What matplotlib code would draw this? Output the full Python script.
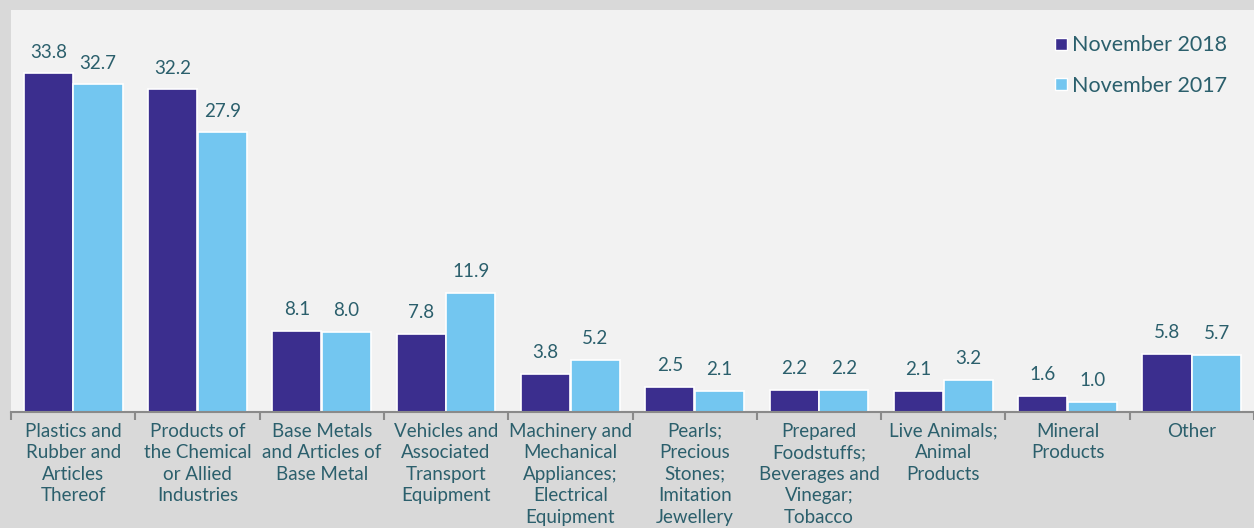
import numpy as np
import matplotlib.pyplot as plt
from matplotlib.lines import Line2D

# categories and values
categories = [
    "Plastics and\nRubber and\nArticles\nThereof",
    "Products of\nthe Chemical\nor Allied\nIndustries",
    "Base Metals\nand Articles of\nBase Metal",
    "Vehicles and\nAssociated\nTransport\nEquipment",
    "Machinery and\nMechanical\nAppliances;\nElectrical\nEquipment",
    "Pearls;\nPrecious\nStones;\nImitation\nJewellery",
    "Prepared\nFoodstuffs;\nBeverages and\nVinegar;\nTobacco",
    "Live Animals;\nAnimal\nProducts",
    "Mineral\nProducts",
    "Other",
]
nov_2018 = [33.8, 32.2, 8.1, 7.8, 3.8, 2.5, 2.2, 2.1, 1.6, 5.8]
nov_2017 = [32.7, 27.9, 8.0, 11.9, 5.2, 2.1, 2.2, 3.2, 1.0, 5.7]
series_names = ["November 2018", "November 2017"]

dark = "#3b2e8e"
light = "#73c6f0"
txt = "#2b5f6c"

plt.rcParams['font.family'] = ['Lato', 'DejaVu Sans']

fig = plt.figure(figsize=(12.54, 5.28), dpi=100, facecolor="#d9d9d9")
ax = fig.add_axes([11 / 1254, 1 - 411.5 / 528, 1 - 11 / 1254, (411.5 - 10) / 528])
ax.set_facecolor("#f2f2f2")

x = np.arange(len(categories))
w = 0.395
b1 = ax.bar(x - 0.2, nov_2018, w, color=dark, edgecolor="white", linewidth=1.2)
b2 = ax.bar(x + 0.2, nov_2017, w, color=light, edgecolor="white", linewidth=1.2)

for bars, vals in ((b1, nov_2018), (b2, nov_2017)):
    for r, v in zip(bars, vals):
        ax.annotate(f"{v:.1f}", (r.get_x() + r.get_width() / 2, v),
                    xytext=(0, 9), textcoords="offset points",
                    ha="center", va="bottom", fontsize=13.5, color=txt)

ax.set_xlim(-0.5, len(categories) - 0.5)
ax.set_ylim(0, 40.15)
ax.set_yticks([])
for s in ("top", "right", "left"):
    ax.spines[s].set_visible(False)
ax.spines["bottom"].set_color("#8a8a8a")
ax.spines["bottom"].set_linewidth(1.5)

ax.set_xticks(x)
ax.set_xticklabels(categories, fontsize=13.5, color=txt, linespacing=1.33)
ax.tick_params(axis="x", which="major", length=0, pad=8)
ax.set_xticks(np.arange(-0.5, len(categories)), minor=True)
ax.tick_params(axis="x", which="minor", length=6, width=1.5, color="#8a8a8a")

handles = [Line2D([], [], marker="s", linestyle="", markersize=9,
                  markerfacecolor=c, markeredgecolor="white", markeredgewidth=1)
           for c in (dark, light)]
leg = ax.legend(handles, series_names, loc="upper right", frameon=False,
                fontsize=15.5, labelcolor=txt, handletextpad=0.0,
                handlelength=1.0, labelspacing=0.95,
                bbox_to_anchor=(0.994, 0.985))

fig.savefig("out.png", dpi=100, facecolor=fig.get_facecolor())
